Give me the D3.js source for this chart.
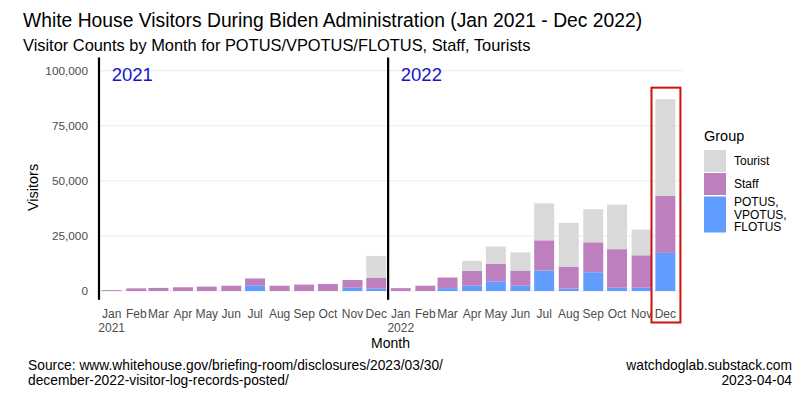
<!DOCTYPE html>
<html>
<head>
<meta charset="utf-8">
<script src="https://cdn.jsdelivr.net/npm/d3@7"></script>
<style>
  body { margin: 0; background: #fff; }
  text { font-family: "Liberation Sans", Arial, sans-serif; }
</style>
</head>
<body>
<script>
const width = 801, height = 399;

// monthly data, Jan 2021 - Dec 2022
const months = [
  "2021-01-01", "2021-02-01", "2021-03-01", "2021-04-01", "2021-05-01", "2021-06-01",
  "2021-07-01", "2021-08-01", "2021-09-01", "2021-10-01", "2021-11-01", "2021-12-01",
  "2022-01-01", "2022-02-01", "2022-03-01", "2022-04-01", "2022-05-01", "2022-06-01",
  "2022-07-01", "2022-08-01", "2022-09-01", "2022-10-01", "2022-11-01", "2022-12-01"
];
const potus   = [0, 0, 0, 0, 0, 0, 2400, 0, 0, 0, 1500, 1200,
                 0, 0, 1300, 2400, 4400, 2400, 9300, 1100, 8500, 1500, 1500, 17300];
const staff   = [400, 1200, 1400, 1700, 2000, 2400, 3300, 2400, 2900, 3200, 3500, 4700,
                 1300, 2400, 4800, 6700, 7900, 6900, 13700, 10000, 13600, 17500, 14700, 25900];
const tourist = [0, 0, 0, 0, 0, 0, 0, 0, 0, 0, 0, 10000,
                 0, 0, 0, 4600, 7900, 8200, 16800, 19800, 15000, 20200, 11700, 43900];

const groups = ["POTUS, VPOTUS, FLOTUS", "Staff", "Tourist"];
const groupColors = ["#619cff", "#bd7fbd", "#d9d9d9"];
const yTicks = [0, 25000, 50000, 75000, 100000];
const yearStarts = ["2021-01-01", "2022-01-01"];
const dividers = ["2020-12-16", "2021-12-16"];
const highlightMonth = "2022-12-01";

const parse = d3.utcParse("%Y-%m-%d");
const day = 864e5;

const svg = d3.select('body').append('svg')
    .attr('width', width)
    .attr('height', height);

const x = d3.scaleUtc()
    .domain([parse("2020-12-16"), parse("2022-12-22")])
    .range([99, 682]);
const y = d3.scaleLinear().domain([0, 100000]).range([291, 70.7]);
const color = d3.scaleOrdinal().domain(groups).range(groupColors);

const rows = months.map((m, i) => ({
    date: parse(m),
    [groups[0]]: potus[i], [groups[1]]: staff[i], [groups[2]]: tourist[i]
}));
const stacked = d3.stack().keys(groups)(rows);
const halfBar = 12.6 * day;

// titles
svg.append('text').attr('x', 23).attr('y', 27)
    .style('font-size', '19.3px').text("White House Visitors During Biden Administration (Jan 2021 - Dec 2022)");
svg.append('text').attr('x', 23).attr('y', 51)
    .style('font-size', '16.4px').text("Visitor Counts by Month for POTUS/VPOTUS/FLOTUS, Staff, Tourists");

// grid
svg.append('g').selectAll('line').data(yTicks).join('line')
    .attr('x1', x.range()[0]).attr('x2', x.range()[1])
    .attr('y1', d => y(d)).attr('y2', d => y(d))
    .attr('stroke', '#ebebeb').attr('stroke-width', 1);

// y axis labels
svg.append('g').selectAll('text').data(yTicks).join('text')
    .attr('x', 88).attr('y', d => y(d) + 4)
    .attr('text-anchor', 'end').attr('fill', '#4d4d4d')
    .style('font-size', '11.8px')
    .text(d3.format(","));
svg.append('text')
    .attr('transform', `translate(38,${y(47000)}) rotate(-90)`)
    .attr('text-anchor', 'middle').style('font-size', '14.5px').text("Visitors");

// bars
svg.append('g').selectAll('g').data(stacked).join('g')
    .attr('fill', d => color(d.key))
  .selectAll('rect').data(d => d).join('rect')
    .attr('x', d => x(new Date(d.data.date - halfBar)))
    .attr('width', d => x(new Date(+d.data.date + halfBar)) - x(new Date(d.data.date - halfBar)))
    .attr('y', d => y(d[1]))
    .attr('height', d => y(d[0]) - y(d[1]));

// year dividers and labels
svg.append('g').selectAll('line').data(dividers).join('line')
    .attr('x1', d => x(parse(d))).attr('x2', d => x(parse(d)))
    .attr('y1', y(106000)).attr('y2', y(-4000))
    .attr('stroke', '#000').attr('stroke-width', 2.2);
svg.append('g').selectAll('text').data(yearStarts).join('text')
    .attr('x', d => x(parse(d))).attr('y', y(100000) + 10)
    .attr('fill', '#1414cc').style('font-size', '18.5px')
    .text(d => d.slice(0, 4));

// x axis labels
const xl = svg.append('g').selectAll('text').data(months).join('text')
    .attr('x', d => x(parse(d)))
    .attr('text-anchor', 'middle').attr('fill', '#4d4d4d')
    .style('font-size', '12px');
xl.append('tspan').attr('x', d => x(parse(d))).attr('y', 318)
    .text(d => d3.utcFormat("%b")(parse(d)));
xl.filter(d => d.slice(5, 7) === "01").append('tspan')
    .attr('x', d => x(parse(d))).attr('y', 331.5)
    .text(d => d.slice(0, 4));
svg.append('text').attr('x', (x.range()[0] + x.range()[1]) / 2).attr('y', 348)
    .attr('text-anchor', 'middle').style('font-size', '14px').text("Month");

// highlight box
const hd = parse(highlightMonth);
svg.append('rect')
    .attr('x', x(new Date(hd - 17.5 * day)))
    .attr('y', y(92300))
    .attr('width', x(new Date(+hd + 19 * day)) - x(new Date(hd - 17.5 * day)))
    .attr('height', y(-14300) - y(92300))
    .attr('fill', 'none').attr('stroke', '#cc1111').attr('stroke-width', 2);

// legend
const legend = svg.append('g').attr('transform', 'translate(704,0)');
legend.append('text').attr('x', 0).attr('y', 140.5).style('font-size', '14.5px').text("Group");
const legendItems = [
    { key: "Tourist", lines: ["Tourist"], top: 150, h: 22 },
    { key: "Staff", lines: ["Staff"], top: 173, h: 22 },
    { key: groups[0], lines: ["POTUS,", "VPOTUS,", "FLOTUS"], top: 196.5, h: 36 }
];
legendItems.forEach(it => {
    legend.append('rect').attr('x', 0).attr('y', it.top).attr('width', 22).attr('height', it.h)
        .attr('fill', color(it.key));
    const t = legend.append('text').style('font-size', '12px');
    const first = it.top + it.h / 2 - (it.lines.length - 1) * 6.3 + 4.2;
    it.lines.forEach((l, i) => t.append('tspan').attr('x', 30).attr('y', first + i * 12.6).text(l));
});

// captions
svg.append('text').attr('x', 28).attr('y', 369.5).style('font-size', '13.8px')
    .text("Source: www.whitehouse.gov/briefing-room/disclosures/2023/03/30/");
svg.append('text').attr('x', 28).attr('y', 384.5).style('font-size', '13.8px')
    .text("december-2022-visitor-log-records-posted/");
svg.append('text').attr('x', 792).attr('y', 369.5).attr('text-anchor', 'end').style('font-size', '13.8px')
    .text("watchdoglab.substack.com");
svg.append('text').attr('x', 792).attr('y', 384.5).attr('text-anchor', 'end').style('font-size', '13.8px')
    .text("2023-04-04");
</script>
</body>
</html>
